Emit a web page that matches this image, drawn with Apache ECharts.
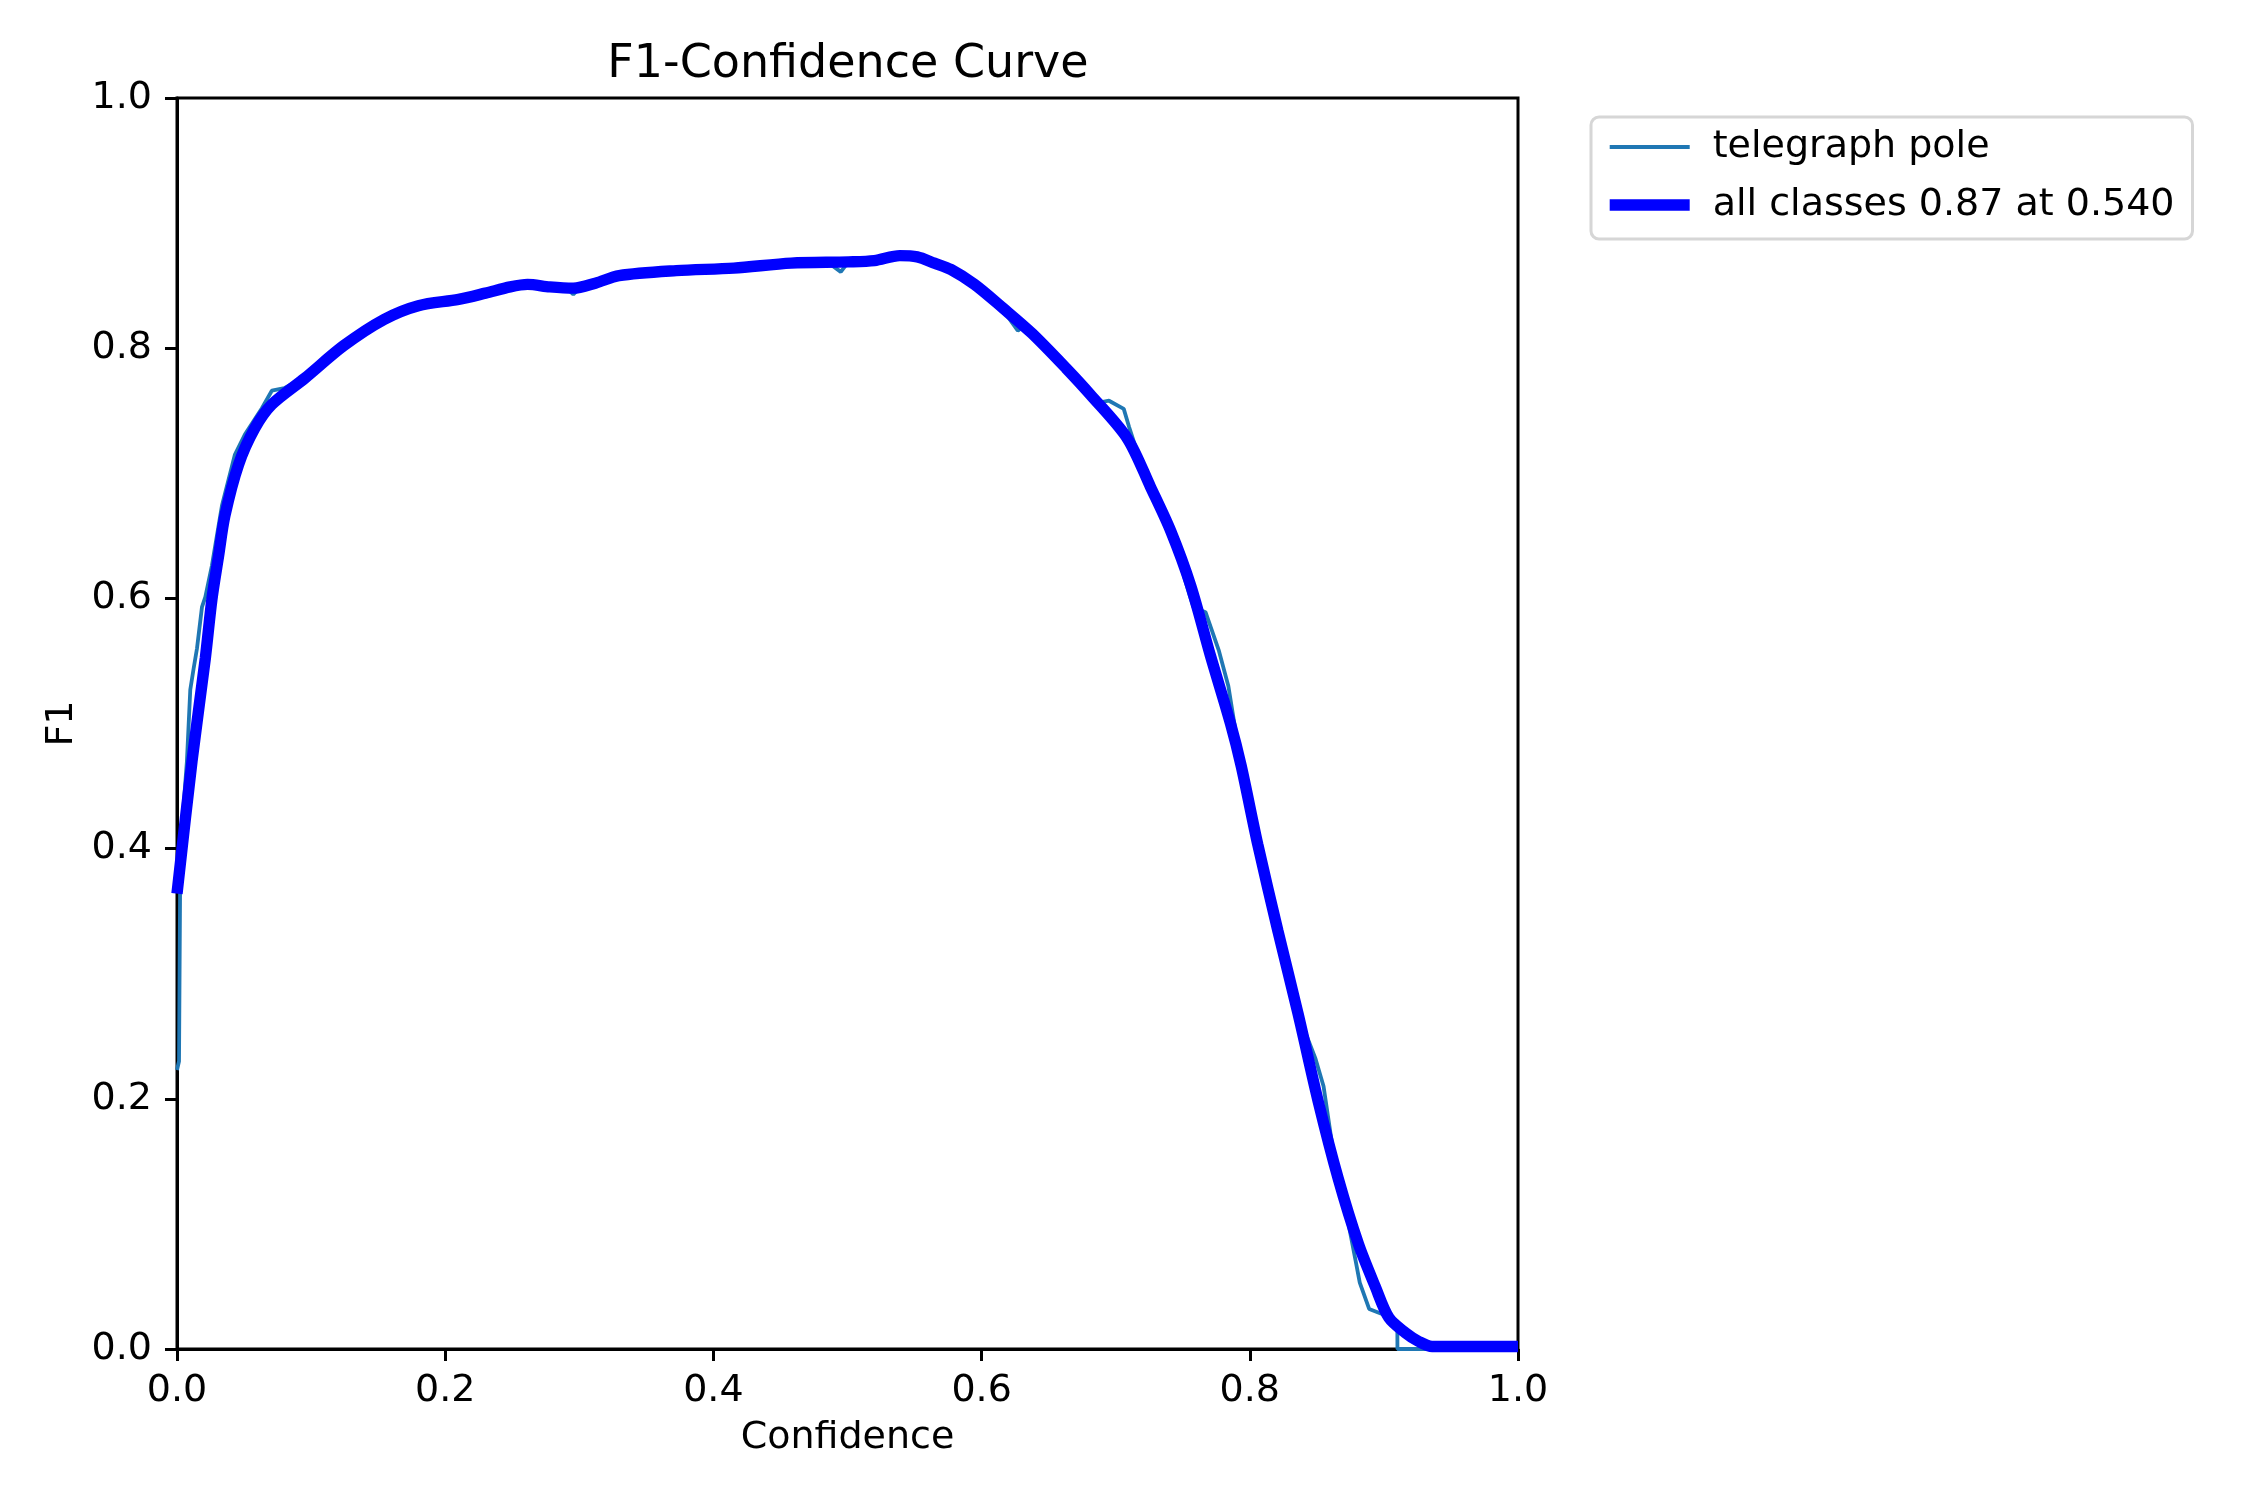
<!DOCTYPE html>
<html>
<head>
<meta charset="utf-8">
<script src="https://cdn.jsdelivr.net/npm/echarts@6/dist/echarts.min.js"></script>
<style>
  html, body { margin: 0; padding: 0; background: #fff; }
  #f1-chart { width: 2250px; height: 1500px; }
</style>
</head>
<body>
<div id="f1-chart"></div>
<script>
// averaged curve over all classes (thick blue)
const confAll = [0, 0.0112, 0.0211, 0.026, 0.031, 0.0357, 0.0459, 0.058, 0.0707, 0.0953,
  0.1243, 0.1544, 0.18, 0.21, 0.23, 0.2485, 0.2614, 0.278, 0.2955, 0.312,
  0.3297, 0.3723, 0.4152, 0.458, 0.5007, 0.52, 0.539, 0.552, 0.5648, 0.577,
  0.5947, 0.616, 0.6374, 0.663, 0.681, 0.7086, 0.726, 0.741, 0.756, 0.7707,
  0.7856, 0.7936, 0.806, 0.821, 0.836, 0.851, 0.866, 0.881, 0.8935, 0.9037,
  0.916, 0.926, 0.936, 1.0];
const f1All = [0.364, 0.47, 0.552, 0.599, 0.634, 0.666, 0.707, 0.736, 0.755, 0.776,
  0.802, 0.823, 0.834, 0.839, 0.844, 0.849, 0.851, 0.849, 0.848, 0.852,
  0.858, 0.862, 0.864, 0.868, 0.869, 0.87, 0.874, 0.873, 0.868, 0.863,
  0.851, 0.832, 0.812, 0.784, 0.763, 0.728, 0.689, 0.654, 0.61, 0.554,
  0.5, 0.466, 0.403, 0.334, 0.268, 0.198, 0.136, 0.084, 0.05, 0.025,
  0.013, 0.006, 0.002, 0.002];

// per-class curve (thin)
const confPole = [0, 0.0015, 0.0025, 0.0074, 0.0099, 0.0124, 0.0149, 0.0186, 0.0211, 0.026,
  0.0335, 0.0432, 0.0506, 0.0633, 0.0707, 0.08, 0.0953, 0.1243, 0.1544, 0.18,
  0.21, 0.23, 0.2485, 0.2614, 0.278, 0.2905, 0.2955, 0.3, 0.312, 0.3297,
  0.3723, 0.4152, 0.458, 0.476, 0.485, 0.495, 0.5007, 0.52, 0.539, 0.552,
  0.5648, 0.577, 0.5947, 0.615, 0.627, 0.632, 0.6374, 0.6515, 0.663, 0.68,
  0.685, 0.695, 0.706, 0.71, 0.72, 0.741, 0.755, 0.758, 0.767, 0.777,
  0.784, 0.7936, 0.806, 0.818, 0.836, 0.849, 0.855, 0.866, 0.87, 0.879,
  0.882, 0.889, 0.901, 0.91, 0.9101, 1.0];
const f1Pole = [0.223, 0.23, 0.4, 0.47, 0.527, 0.544, 0.56, 0.593, 0.601, 0.626,
  0.674, 0.715, 0.731, 0.752, 0.766, 0.768, 0.777, 0.802, 0.824, 0.834,
  0.839, 0.844, 0.849, 0.851, 0.849, 0.848, 0.843, 0.848, 0.852, 0.858,
  0.862, 0.864, 0.868, 0.871, 0.869, 0.861, 0.869, 0.87, 0.874, 0.873,
  0.868, 0.863, 0.851, 0.832, 0.814, 0.818, 0.812, 0.8, 0.785, 0.762,
  0.756, 0.758, 0.7515, 0.737, 0.704, 0.654, 0.603, 0.593, 0.589, 0.558,
  0.53, 0.466, 0.403, 0.348, 0.268, 0.232, 0.21, 0.13, 0.12, 0.07,
  0.053, 0.032, 0.027, 0.022, 0, 0];

const seriesNames = ['telegraph pole', 'all classes 0.87 at 0.540'];

const pairs = (xs, ys) => xs.map((x, i) => [x, ys[i]]);

const chart = echarts.init(document.getElementById('f1-chart'));
const font = 'DejaVu Sans';
const axisCommon = {
  type: 'value',
  min: 0,
  max: 1,
  interval: 0.2,
  nameLocation: 'middle',
  nameTextStyle: { fontFamily: font, fontSize: 38, color: '#000' },
  axisLine: { show: true, onZero: false, lineStyle: { color: '#000', width: 3 } },
  axisTick: { show: true, inside: false, length: 12, lineStyle: { color: '#000', width: 3 } },
  axisLabel: {
    margin: 23,
    fontFamily: font,
    fontSize: 38,
    color: '#000',
    formatter: v => v.toFixed(1)
  },
  splitLine: { show: false }
};

const option = {
  backgroundColor: '#fff',
  animation: false,
  title: {
    text: 'F1-Confidence Curve',
    left: 843,
    top: 37,
    textAlign: 'center',
    textStyle: { fontFamily: font, fontSize: 46, fontWeight: 'normal', color: '#000' }
  },
  grid: {
    left: 177,
    right: 732,
    top: 98,
    bottom: 151,
    show: true,
    borderColor: '#000',
    borderWidth: 3,
    containLabel: false
  },
  legend: {
    orient: 'vertical',
    left: 1591,
    top: 117,
    data: seriesNames,
    itemWidth: 80,
    itemHeight: 38,
    itemGap: 20,
    padding: [11, 18, 15, 13],
    borderColor: '#d6d6d6',
    borderWidth: 3,
    borderRadius: 8,
    backgroundColor: 'rgba(255,255,255,0.8)',
    lineStyle: { width: 'inherit' },
    itemStyle: { opacity: 0 },
    textStyle: { fontFamily: font, fontSize: 38, color: '#000', padding: [0, 0, 0, 18] }
  },
  xAxis: Object.assign({}, axisCommon, {
    name: 'Confidence',
    nameGap: 70
  }),
  yAxis: Object.assign({}, axisCommon, {
    name: 'F1',
    nameGap: 96,
    axisLabel: Object.assign({}, axisCommon.axisLabel, { margin: 25 })
  }),
  series: [
    {
      name: seriesNames[0],
      type: 'line',
      data: pairs(confPole, f1Pole),
      showSymbol: false,
      symbol: 'none',
      lineStyle: { color: '#1f77b4', width: 3.8 },
      itemStyle: { color: '#1f77b4' },
      z: 2
    },
    {
      name: seriesNames[1],
      type: 'line',
      data: pairs(confAll, f1All),
      smooth: 0.3,
      showSymbol: false,
      symbol: 'none',
      lineStyle: { color: '#0000ff', width: 11.4 },
      itemStyle: { color: '#0000ff' },
      z: 3
    }
  ]
};
chart.setOption(option);
</script>
</body>
</html>
